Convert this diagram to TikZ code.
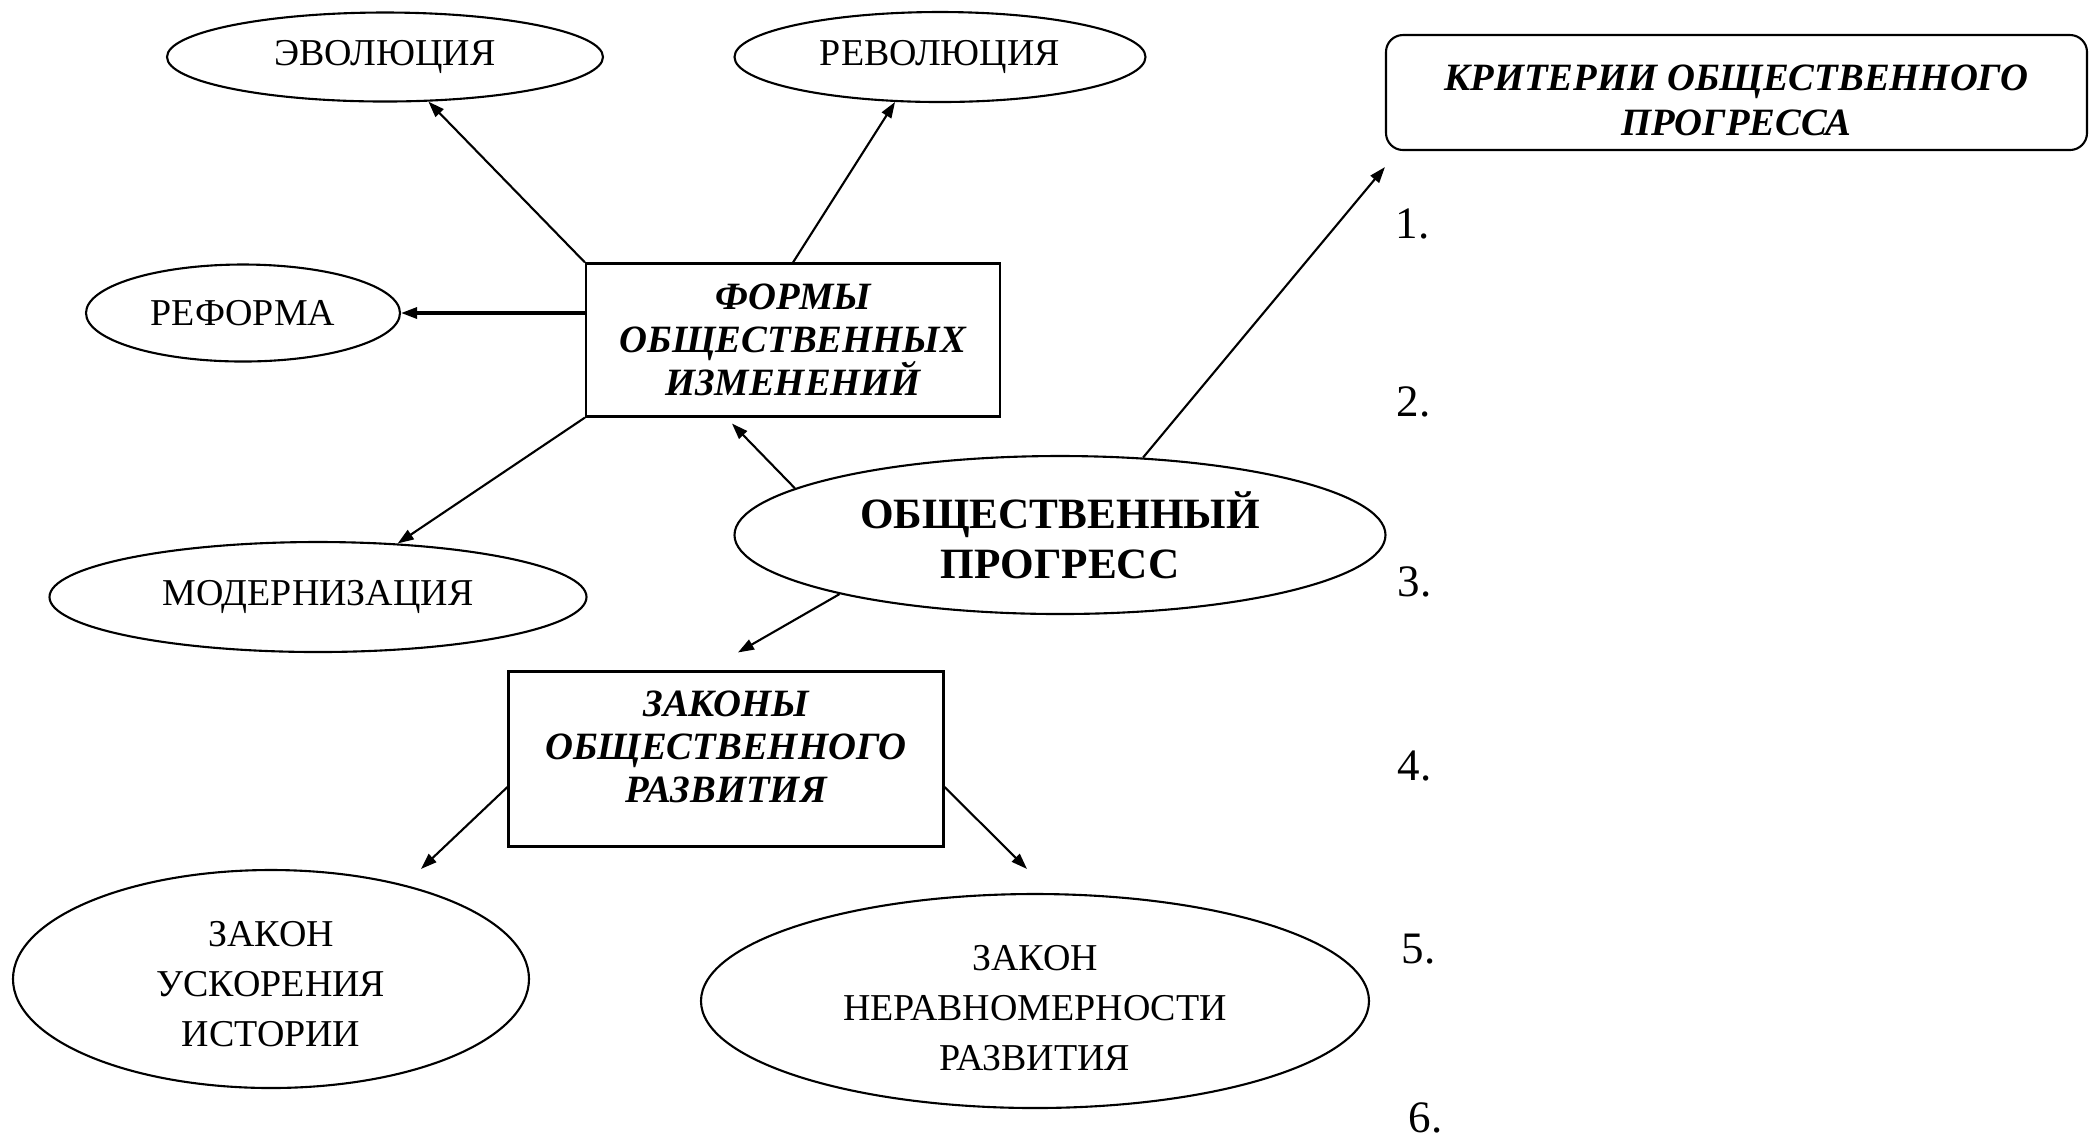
\documentclass[tikz,border=0pt]{standalone}
\usepackage{fontspec}
\setmainfont{Liberation Serif}
\usetikzlibrary{shapes.geometric,arrows.meta}

\begin{document}
\begin{tikzpicture}[ oval/.style={ellipse,draw=black,line width=0.6pt,inner sep=0pt,
                                  align=center,font=\fontsize{10.8}{14.2}\selectfont},
                     formbox/.style={rectangle,draw=black,line width=0.6pt,align=center,
                                  font=\fontsize{11}{12.2}\selectfont\bfseries\itshape},
                     link/.style={-{Triangle[length=1.6mm,width=1.1mm]},line width=0.6pt},
                     numlab/.style={anchor=west,inner sep=0pt,
                                  font=\fontsize{12.8}{15}\selectfont},
                   ]
 \useasboundingbox (0,0) rectangle (20.89,-11.42);

 \draw (3.85,-0.57)  node[oval,minimum width=4.36cm,minimum height=0.89cm] (evol)
              {ЭВОЛЮЦИЯ};
 \draw (9.40,-0.57)  node[oval,minimum width=4.11cm,minimum height=0.90cm] (revol)
              {РЕВОЛЮЦИЯ};
 \draw (2.43,-3.13)  node[oval,minimum width=3.14cm,minimum height=0.97cm] (refo)
              {РЕФОРМА};
 \draw (3.18,-5.97)  node[oval,minimum width=5.37cm,minimum height=1.10cm] (modern)
              {МОДЕРНИЗАЦИЯ};

 \draw (7.93,-3.40)  node[formbox,minimum width=4.14cm,minimum height=1.53cm] (forms)
              {ФОРМЫ\\ОБЩЕСТВЕННЫХ\\ИЗМЕНЕНИЙ};

 \draw (10.60,-5.35) node[oval,minimum width=6.51cm,minimum height=1.58cm,
                          font=\fontsize{12.3}{14.2}\selectfont\bfseries] (prog)
              {ОБЩЕСТВЕННЫЙ\\ПРОГРЕСС};

 \draw (17.365,-0.925) node[formbox,rounded corners=1.7mm,minimum width=7.01cm,
                            minimum height=1.15cm,
                            font=\fontsize{11}{12.8}\selectfont\bfseries\itshape] (krit)
              {\rule{0pt}{4.2mm}КРИТЕРИИ ОБЩЕСТВЕННОГО\\ПРОГРЕССА};

 \draw (7.26,-7.59)  node[formbox,minimum width=4.35cm,minimum height=1.75cm] (zak)
              {ЗАКОНЫ\\ОБЩЕСТВЕННОГО\\РАЗВИТИЯ\rule[-2.4mm]{0pt}{2.4mm}};

 \draw (2.71,-9.79)  node[oval,minimum width=5.16cm,minimum height=2.18cm] (usk)
              {\rule{0pt}{3.5mm}ЗАКОН\\УСКОРЕНИЯ\\ИСТОРИИ};
 \draw (10.35,-10.01) node[oval,minimum width=6.68cm,minimum height=2.14cm] (ner)
              {\rule{0pt}{3.9mm}ЗАКОН\\НЕРАВНОМЕРНОСТИ\\РАЗВИТИЯ};

 % criteria list
 \draw (13.95,-2.24)  node[numlab] (n1) {1.};
 \draw (13.96,-4.02)  node[numlab] (n2) {2.};
 \draw (13.97,-5.82)  node[numlab] (n3) {3.};
 \draw (13.97,-7.66)  node[numlab] (n4) {4.};
 \draw (14.01,-9.49)  node[numlab] (n5) {5.};
 \draw (14.08,-11.18) node[numlab] (n6) {6.};

 \draw[link] (forms.north west) -- (evol);
 \draw[link] (forms.north) -- (revol.-135);
 \draw[link,line width=0.9pt] (refo.east -| forms.west) -- (refo.east);
 \draw[link] (forms.south west) -- (modern);

 \draw[link] (prog.170) -- ([xshift=-0.61cm,yshift=-0.06cm]forms.south);
 \draw[link] (prog.43) -- ([yshift=-0.16cm]krit.south west);
 \draw[link] (prog.195) -- ([xshift=0.12cm,yshift=0.18cm]zak.north);

 \draw[link] ([yshift=-0.28cm]zak.west) -- ([xshift=1.5cm]usk.north);
 \draw[link] ([yshift=-0.28cm]zak.east) -- ([xshift=-0.08cm,yshift=0.24cm]ner.north);

\end{tikzpicture}
\end{document}
